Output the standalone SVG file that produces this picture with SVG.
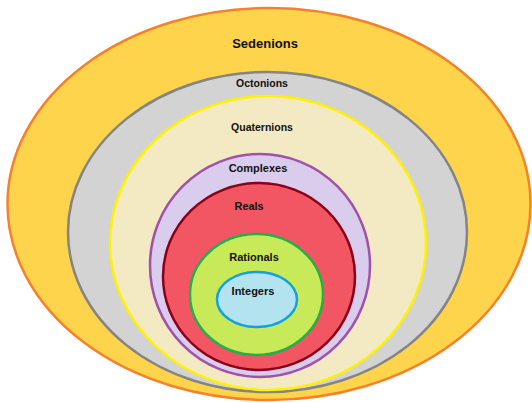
<svg xmlns="http://www.w3.org/2000/svg" width="532" height="403" viewBox="0 0 532 403">
<style>
text{font-family:"Liberation Sans",Arial,sans-serif;font-weight:bold;fill:#111;text-anchor:middle}
.s{stroke-width:2.5}
</style>
<rect width="532" height="403" fill="#ffffff"/>
<g id="sedenions">
<ellipse class="s" cx="269" cy="204" rx="261.5" ry="196" fill="#FDD44C" stroke="#F5822A"/>
<text x="265" y="48" font-size="13">Sedenions</text>
</g>
<g id="octonions">
<ellipse class="s" cx="267.5" cy="232" rx="199.5" ry="160" fill="#D3D3D3" stroke="#848484"/>
<text x="262" y="87" font-size="10.5">Octonions</text>
</g>
<g id="quaternions">
<ellipse class="s" cx="268" cy="243" rx="158" ry="147" fill="#F3EAC4" stroke="#FFF200"/>
<text x="262" y="131" font-size="10.5">Quaternions</text>
</g>
<g id="complexes">
<ellipse class="s" cx="260" cy="265.5" rx="110" ry="111.5" fill="#D9CCEC" stroke="#A052A8"/>
<text x="258" y="172" font-size="11">Complexes</text>
</g>
<g id="reals">
<ellipse class="s" cx="259" cy="276.5" rx="96" ry="93.5" fill="#F25662" stroke="#8B0018"/>
<text x="249" y="210" font-size="10.8">Reals</text>
</g>
<g id="rationals">
<ellipse class="s" cx="256.5" cy="294.5" rx="66.5" ry="60.5" fill="#C8EA58" stroke="#22B04A"/>
<text x="254" y="261" font-size="11">Rationals</text>
</g>
<g id="integers">
<ellipse class="s" cx="257" cy="299.5" rx="40" ry="27.5" fill="#B3E3EE" stroke="#12A0E3"/>
<text x="253" y="295" font-size="11">Integers</text>
</g>
<g id="connectors"/>
</svg>
